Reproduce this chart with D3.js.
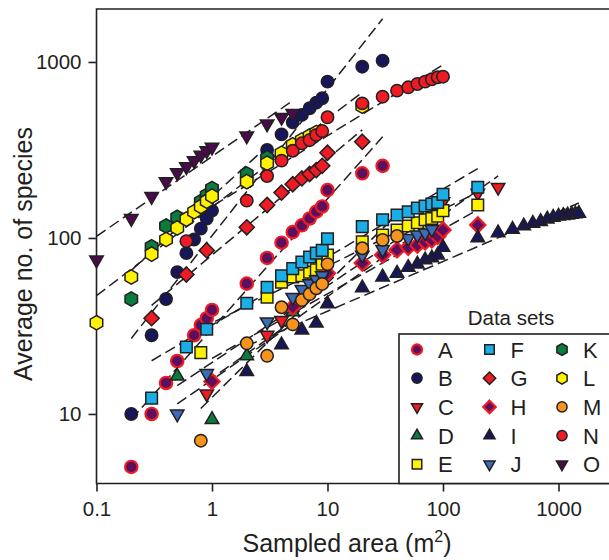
<!DOCTYPE html>
<html><head><meta charset="utf-8">
<script src="https://cdn.jsdelivr.net/npm/d3@7"></script>
<style>body{margin:0;background:#fff} svg{display:block} text{font-family:"Liberation Sans",Arial,Helvetica,sans-serif;fill:#231f20}</style>
</head><body>
<svg id="c" width="609" height="560"></svg>
<script>
// ---------- data ----------
const seriesNames = ["A","B","C","D","E","F","G","H","I","J","K","L","M","N","O"];

const xA = [0.2,0.3,0.4,0.5,0.7,0.8,0.9,1,2,3,4,5,6,7,8,9,10,20,30];
const yA = [5,10,15,20,28,32,35,39,55,77,94,108,118,129,141,151,187,233,257];
const xB = [0.2,0.3,0.4,0.5,0.6,0.7,0.8,0.9,1,3,4,5,6,7,8,9,10,20,30];
const yB = [10,28,45,64,82,98,113,129,143,316,388,454,500,546,587,622,773,940,1017];
const xC = [0.9,3,4,100,200,300];
const yC = [13,28,34,161,180,194];
const xD = [0.5,1,2,5];
const yD = [16.4,9.3,21.4,38];
const xE = [0.8,3,4,5,6,7,8,9,10,20,30,40,50,60,70,80,90,100,200];
const yE = [22.3,46,56,60,61,64,66,71,80,95,104,111,117,122,127,129,133,143,154];
const xF = [0.3,0.6,0.9,2,3,4,5,6,7,8,9,10,20,30,40,50,60,70,80,90,100,200];
const yF = [12.3,24,30.3,42.6,52.5,61,67,73,78,82,85,99,116,127,135,141,148,152,156,159,177,194];
const xG = [0.3,0.6,0.9,2,3,4,5,6,7,8,9,10,20];
const yG = [35,62,85,115,154,181,202,218,231,243,257,305,352];
const xH = [1,5,10,20,30,40,50,60,70,80,90,100,200];
const yH = [15.3,40.5,63,72,80,85.5,88.5,91,95,97.5,102,111,118.5];
const xI = [2,4,6,8,10,20,30,40,50,60,70,80,90,100,200,300,400,500,600,700,800,900,1000,1100,1200,1300,1400,1500];
const yI = [17.4,24.7,30,32.8,42.2,52,60,63,68,71,75,77,80,88.5,100,107,112,117,121,124,128,131,133,134,135,136,137,138];
const xJ = [0.5,0.9,3,5,6,7,8,9,20,30,50,60,70,80];
const yJ = [10,17,33.4,46,51,55,58,61,80,86,99.6,104,107,112];
const xK = [0.2,0.3,0.4,0.5,0.8,0.9,1,2,3];
const yK = [45,89,117,131,161,175,191,231,285];
const xL = [0.1,0.2,0.3,0.4,0.5,0.6,0.7,0.8,0.9,1,2,3,4,5,6,7,8,20];
const yL = [33,60,81,98,114,128,141,151,162,173,209,266,303,338,360,380,397,560];
const xM = [0.8,2,3,4,5,6,7,8,9,10,20,30,40];
const yM = [7.05,25.2,21.4,40.4,32.3,44.4,48,51.8,54.8,71,87.4,97.5,102.6];
const xN = [0.6,2,3,4,5,6,7,8,9,10,20,30,40,50,60,70,80,90,100];
const yN = [96,163,225,275,313,345,360,385,405,485,582,635,687,718,750,773,797,819,825];
const xO = [0.1,0.2,0.3,0.4,0.5,0.6,0.7,0.8,0.9,1,2,3,4,5];
const yO = [75,129,172,209,235,254,275,296,313,328,380,445,485,511];

const xTicks = [0.1,1,10,100,1000];
const xTickLabels = ["0.1","1","10","100","1000"];
const yTicks = [10,100,1000];
const yTickLabels = ["10","100","1000"];
const xTitle = "Sampled area (m";
const xTitleSup = "2";
const yTitle = "Average no. of species";
const legendTitle = "Data sets";

// ---------- styles ----------
const dark = "#231f20";
const style = {
  A:{shape:"circle", fill:"#5c0f5e", stroke:"#ed1c24"},
  B:{shape:"circle", fill:"#16165a", stroke:dark},
  C:{shape:"triDown", fill:"#ed1c24", stroke:dark},
  D:{shape:"triUp", fill:"#0a7c3f", stroke:dark},
  E:{shape:"square", fill:"#fff200", stroke:dark},
  F:{shape:"square", fill:"#19aee6", stroke:dark},
  G:{shape:"diamond", fill:"#ed1c24", stroke:dark},
  H:{shape:"diamond", fill:"#5c0f5e", stroke:"#ed1c24"},
  I:{shape:"triUp", fill:"#16165a", stroke:dark},
  J:{shape:"triDown", fill:"#3b6db6", stroke:dark},
  K:{shape:"hex", fill:"#0a7c3f", stroke:dark},
  L:{shape:"hex", fill:"#fff200", stroke:dark},
  M:{shape:"circle", fill:"#f7941d", stroke:dark},
  N:{shape:"circle", fill:"#ed1c24", stroke:dark},
  O:{shape:"triDown", fill:"#4a0a4e", stroke:dark}
};
const dataX = {A:xA,B:xB,C:xC,D:xD,E:xE,F:xF,G:xG,H:xH,I:xI,J:xJ,K:xK,L:xL,M:xM,N:xN,O:xO};
const dataY = {A:yA,B:yB,C:yC,D:yD,E:yE,F:yF,G:yG,H:yH,I:yI,J:yJ,K:yK,L:yL,M:yM,N:yN,O:yO};

function shapePath(type, s){
  const p = d3.path();
  if(type==="circle"){ const r=6.2*s; p.arc(0,0,r,0,2*Math.PI); p.closePath(); }
  else if(type==="square"){ const h=5.8*s; p.rect(-h,-h,2*h,2*h); }
  else if(type==="triUp"||type==="triDown"){
    const a=13.5*s, h=a*0.866, g=type==="triUp"?1:-1;
    p.moveTo(0,-g*2*h/3); p.lineTo(a/2,g*h/3); p.lineTo(-a/2,g*h/3); p.closePath();
  }
  else if(type==="diamond"){ const d=7.6*s; p.moveTo(0,-d); p.lineTo(d,0); p.lineTo(0,d); p.lineTo(-d,0); p.closePath(); }
  else if(type==="hex"){ const r=7.2*s; for(let k=0;k<6;k++){const a=(-90+60*k)*Math.PI/180; const px=r*Math.cos(a), py=r*Math.sin(a); if(k===0)p.moveTo(px,py); else p.lineTo(px,py);} p.closePath(); }
  return p.toString();
}

// ---------- scales ----------
const svg = d3.select("#c");
const x = d3.scaleLog().domain([0.1, 3000]).range([96.5, 96.5 + Math.log10(30000)*115.5]);
const y = d3.scaleLog().domain([4, 2000]).range([484, 9]);
const pLeft = 96.5, pTop = 9, pBottom = 483.5, pRight = 620;

svg.append("clipPath").attr("id","plotclip").append("rect")
  .attr("x",pLeft).attr("y",pTop).attr("width",pRight-pLeft).attr("height",pBottom-pTop);

// frame
svg.append("path").attr("d",`M${pRight},${pTop}H${pLeft}V${pBottom}H${pRight}`)
  .attr("fill","none").attr("stroke",dark).attr("stroke-width",1.6);

// axes
const xAxis = d3.axisBottom(x).tickValues(xTicks).tickFormat((d,i)=>xTickLabels[i]).tickSize(8).tickPadding(9);
const gx = svg.append("g").attr("transform",`translate(0,${pBottom})`).call(xAxis);
const yAxis = d3.axisLeft(y).tickValues(yTicks).tickFormat((d,i)=>yTickLabels[i]).tickSize(8).tickPadding(7);
const gy = svg.append("g").attr("transform",`translate(${pLeft},0)`).call(yAxis);
[gx,gy].forEach(g=>{
  g.select(".domain").remove();
  g.selectAll(".tick line").attr("stroke",dark).attr("stroke-width",1.6);
  g.selectAll(".tick text").attr("font-size",20.5).attr("fill",dark)
    .attr("font-family",'"Liberation Sans",Arial,sans-serif');
});
gx.selectAll(".tick text").attr("dy","0.75em");

// titles
const xt = svg.append("text").attr("x",347).attr("y",552).attr("text-anchor","middle").attr("font-size",25);
xt.append("tspan").text(xTitle);
xt.append("tspan").attr("font-size",16).attr("dy",-10).text(xTitleSup);
xt.append("tspan").attr("dy",10).text(")");
svg.append("text").attr("transform","translate(31.5,254) rotate(-90)").attr("text-anchor","middle")
  .attr("font-size",25).text(yTitle);

// fitted power-law lines (OLS in log-log space)
function fit(xs, ys){
  const lx=xs.map(Math.log10), ly=ys.map(Math.log10);
  const mx=d3.mean(lx), my=d3.mean(ly);
  let sxy=0, sxx=0;
  lx.forEach((v,i)=>{ sxy+=(v-mx)*(ly[i]-my); sxx+=(v-mx)*(v-mx); });
  const z=sxy/sxx, c=my-z*mx;
  const x0=d3.min(xs), x1=d3.max(xs);
  return [[x0, Math.pow(10,c+z*Math.log10(x0))],[x1, Math.pow(10,c+z*Math.log10(x1))]];
}
const gl = svg.append("g").attr("clip-path","url(#plotclip)");
seriesNames.forEach(n=>{
  const seg = fit(dataX[n], dataY[n]);
  gl.append("path").attr("d", d3.line().x(d=>x(d[0])).y(d=>y(d[1]))(seg))
    .attr("fill","none").attr("stroke",dark).attr("stroke-width",1.5).attr("stroke-dasharray","11,5");
});

// points
const gp = svg.append("g");
seriesNames.forEach(n=>{
  const st = style[n];
  const pts = dataX[n].map((v,i)=>[v, dataY[n][i]]);
  gp.append("g").selectAll("path").data(pts).join("path")
    .attr("d", shapePath(st.shape,1))
    .attr("transform", d=>`translate(${x(d[0])},${y(d[1])})`)
    .attr("fill", st.fill).attr("stroke", st.stroke)
    .attr("stroke-width", st.stroke===dark?1.5:2.2);
});

// legend
const lg = svg.append("g");
lg.append("rect").attr("x",399).attr("y",334).attr("width",240).attr("height",149.5)
  .attr("fill","#fff").attr("stroke",dark).attr("stroke-width",1.6);
lg.append("text").attr("x",511).attr("y",324.5).attr("text-anchor","middle").attr("font-size",20.5).text(legendTitle);
seriesNames.forEach((n,i)=>{
  const col=Math.floor(i/5), row=i%5;
  const cx=417+72.5*col, cy=349.5+28.7*row;
  const st=style[n];
  lg.append("path").attr("d",shapePath(st.shape,0.82)).attr("transform",`translate(${cx},${cy})`)
    .attr("fill",st.fill).attr("stroke",st.stroke).attr("stroke-width",st.stroke===dark?1.5:2.2);
  lg.append("text").attr("x",cx+21).attr("y",cy+8).attr("font-size",22).text(n);
});
</script>
</body></html>
